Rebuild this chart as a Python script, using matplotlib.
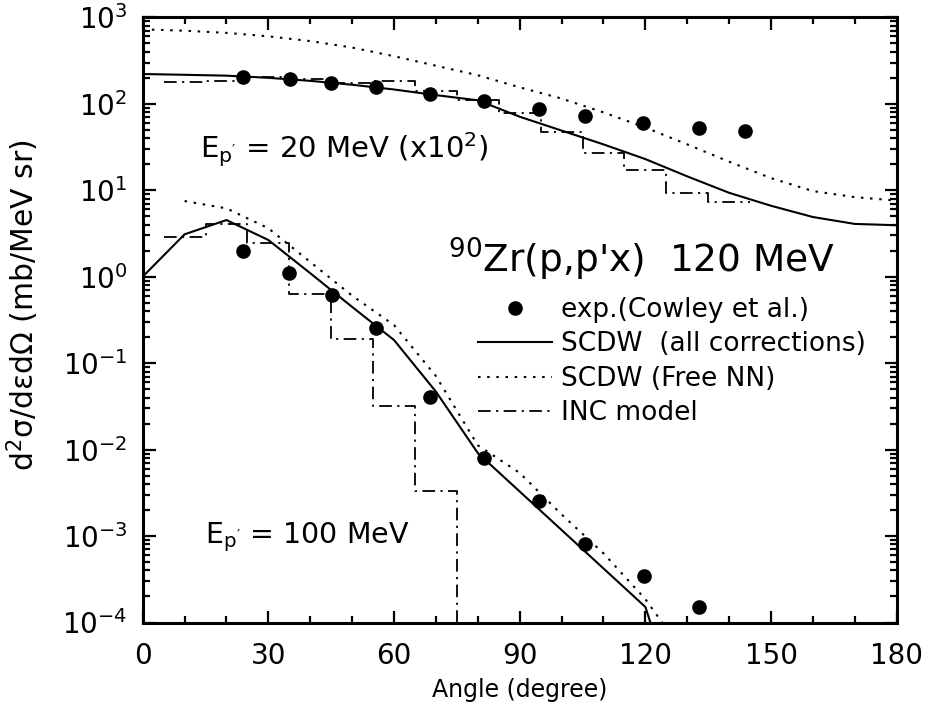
import numpy as np
import matplotlib
matplotlib.use("Agg")
import matplotlib.pyplot as plt
from matplotlib.ticker import LogLocator, FixedLocator, NullFormatter, LogFormatterSciNotation

plt.rcParams['font.family'] = ['DejaVu Sans']
plt.rcParams['mathtext.fontset'] = 'custom'
plt.rcParams['mathtext.rm'] = 'DejaVu Sans'
plt.rcParams['mathtext.it'] = 'DejaVu Sans'
plt.rcParams['mathtext.default'] = 'regular'
plt.rcParams['axes.unicode_minus'] = False

# ---------------- data ----------------
# E_p' = 20 MeV (x10^2)
exp20_angle = [24.0, 35.2, 44.9, 55.7, 68.6, 81.5, 94.6, 105.6, 119.5, 132.8, 143.7]
exp20_val = [202, 192, 173, 155, 130, 108, 86.9, 72.8, 59.4, 52, 48.4]

scdw20_angle = [0, 10, 20, 30, 40, 50, 60, 70, 80, 90, 100, 110, 120, 130, 140, 150, 160, 170, 180]
scdw20_log = [2.344, 2.335, 2.325, 2.30, 2.265, 2.22, 2.165, 2.10, 2.04, 1.85, 1.69, 1.53,
              1.36, 1.16, 0.97, 0.82, 0.69, 0.61, 0.595]
free20_angle = [0, 10, 20, 30, 40, 50, 60, 70, 80, 90, 100, 110, 120, 130, 140, 150, 160, 170, 180]
free20_log = [2.861, 2.845, 2.82, 2.78, 2.725, 2.65, 2.55, 2.44, 2.33, 2.19, 2.06, 1.90,
              1.725, 1.53, 1.33, 1.14, 0.99, 0.92, 0.88]
inc20_edges = [5, 15, 25, 35, 45, 55, 65, 75, 85, 95, 105, 115, 125, 135, 145]
inc20_val = [180, 185, 205, 195, 172, 183, 140, 110, 78, 47.5, 26.7, 17.1, 9.4, 7.4]

# E_p' = 100 MeV
exp100_angle = [24.0, 35.0, 45.1, 55.8, 68.7, 81.5, 94.7, 105.6, 119.6, 132.8]
exp100_val = [1.98, 1.11, 0.614, 0.257, 0.0408, 0.0079, 0.00254, 0.00081, 0.000345, 0.00015]

scdw100_angle = [0, 10, 20, 30, 40, 50, 60, 70, 80, 90, 100, 110, 120, 121.2]
scdw100_log = [0.0, 0.49, 0.655, 0.424, 0.04, -0.35, -0.733, -1.33, -2.04, -2.485,
               -2.93, -3.375, -3.82, -4.0]
free100_angle = [10, 20, 30, 40, 50, 60, 70, 80, 90, 100, 110, 120, 124]
free100_log = [0.875, 0.79, 0.56, 0.17, -0.22, -0.56, -1.15, -1.95, -2.27, -2.75,
               -3.2, -3.73, -4.0]
inc100_edges = [5, 15, 25, 35, 45, 55, 65, 75]
inc100_val = [2.9, 4.1, 2.43, 0.625, 0.188, 0.032, 0.0033]

xticks = [0, 30, 60, 90, 120, 150, 180]
yticks = [1e-4, 1e-3, 1e-2, 1e-1, 1e0, 1e1, 1e2, 1e3]

# ---------------- figure ----------------
fig = plt.figure(figsize=(9.27, 7.11), dpi=100)
ax = fig.add_axes([142.7 / 927, 1 - 622.5 / 711, (896.7 - 142.7) / 927, (622.5 - 17.3) / 711])

lw = 1.5
dot_ls = (0, (1.2, 3.2))
dd_ls = (0, (7, 3, 1.2, 3))

ax.plot(scdw20_angle, 10 ** np.array(scdw20_log), color='black', lw=lw, ls='-')
ax.plot(free20_angle, 10 ** np.array(free20_log), color='black', lw=lw, ls=dot_ls)
ax.plot(inc20_edges, list(inc20_val) + [inc20_val[-1]], color='black', lw=1.3, ls=dd_ls,
        drawstyle='steps-post')
ax.plot(exp20_angle, exp20_val, 'o', color='black', ms=9.5)

ax.plot(scdw100_angle, 10 ** np.array(scdw100_log), color='black', lw=lw, ls='-',
        label='SCDW  (all corrections)')
ax.plot(free100_angle, 10 ** np.array(free100_log), color='black', lw=lw, ls=dot_ls,
        label='SCDW (Free NN)')
ax.plot(inc100_edges, list(inc100_val) + [1e-8], color='black', lw=1.3, ls=dd_ls,
        drawstyle='steps-post', label='INC model')
ax.plot(exp100_angle, exp100_val, 'o', color='black', ms=9.5, label='exp.(Cowley et al.)')

ax.set_yscale('log')
ax.set_xlim(0, 180)
ax.set_ylim(1e-4, 1e3)

ax.xaxis.set_major_locator(FixedLocator(xticks))
ax.xaxis.set_minor_locator(FixedLocator([v for v in range(0, 181, 10) if v % 30 != 0]))
ax.yaxis.set_major_locator(FixedLocator(yticks))
ax.yaxis.set_major_formatter(LogFormatterSciNotation())
minor_y = [m * 10.0 ** e for e in range(-4, 3) for m in range(2, 10)]
ax.yaxis.set_minor_locator(FixedLocator(minor_y))
ax.yaxis.set_minor_formatter(NullFormatter())

ax.tick_params(which='both', direction='in', top=True, right=True, width=1.6)
ax.tick_params(which='major', length=9, labelsize=20)
ax.tick_params(axis='x', which='major', pad=14)
ax.tick_params(axis='y', which='major', pad=11)
ax.tick_params(which='minor', length=5)
for s in ax.spines.values():
    s.set_linewidth(2.2)

ax.set_xlabel('Angle (degree)', fontsize=17)
ax.xaxis.set_label_coords(0.5, -(690 - 622.5) / 605.2)
ax.xaxis.label.set_va('center')
ax.set_ylabel('d$^2$σ/dεdΩ (mb/MeV sr)', fontsize=21.5)
ax.yaxis.set_label_coords(-(142.7 - 23) / 754, (622.5 - 305) / 605.2)
ax.yaxis.label.set_va('center')

# annotations
ax.text(200 / 927, 1 - 158 / 711, "E$_{p'}$ = 20 MeV (x10$^2$)", transform=fig.transFigure,
        fontsize=21, ha='left', va='baseline')
ax.text(205 / 927, 1 - 543 / 711, "E$_{p'}$ = 100 MeV", transform=fig.transFigure,
        fontsize=20.5, ha='left', va='baseline')
ax.text(448 / 927, 1 - 273 / 711, "$^{90}$Zr(p,p'x)  120 MeV", transform=fig.transFigure,
        fontsize=27, ha='left', va='baseline')

handles, labels = ax.get_legend_handles_labels()
order = [3, 0, 1, 2]
leg = ax.legend([handles[i] for i in order], [labels[i] for i in order],
                loc='upper left', bbox_to_anchor=(478 / 927, 1 - 297 / 711),
                bbox_transform=fig.transFigure, frameon=False, fontsize=19,
                handlelength=2.8, handletextpad=0.35, labelspacing=0.32,
                borderpad=0, borderaxespad=0, markerscale=1.0)

fig.savefig('out.png', dpi=100)
